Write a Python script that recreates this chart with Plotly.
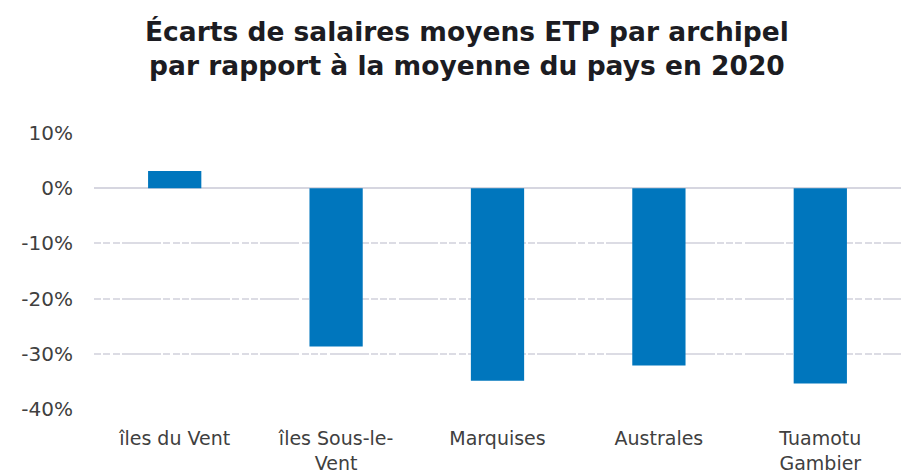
import plotly.graph_objects as go

# Écarts de salaires moyens ETP par archipel (2020)
archipels = ["îles du Vent", "îles Sous-le-<br>Vent", "Marquises", "Australes", "Tuamotu<br>Gambier"]
ecarts = [0.031, -0.287, -0.349, -0.321, -0.354]
y_ticks = [0.10, 0.0, -0.10, -0.20, -0.30, -0.40]
y_labels = ["10%", "0%", "-10%", "-20%", "-30%", "-40%"]

fig = go.Figure(go.Bar(
    x=archipels,
    y=ecarts,
    marker=dict(color="#0076BD", line=dict(width=0)),
    width=0.33,
))

fig.update_layout(
    width=901,
    height=474,
    margin=dict(l=94, r=0, t=133, b=65),
    plot_bgcolor="white",
    paper_bgcolor="white",
    showlegend=False,
    font=dict(family="DejaVu Sans", size=19, color="#404040"),
)

# title as an annotation so both lines are placed from the top
fig.add_annotation(
    text="Écarts de salaires moyens ETP par archipel<br>par rapport à la moyenne du pays en 2020",
    font=dict(family="DejaVu Sans", size=26.5, color="#1c1c22", weight="bold"),
    xref="paper", yref="paper",
    x=(467 - 94) / 807, y=1 + (133 - 14) / 276,
    xanchor="center", yanchor="top",
    showarrow=False,
)

fig.update_xaxes(
    showgrid=False,
    showline=False,
    automargin=False,
    ticks="outside", ticklen=12, tickcolor="rgba(0,0,0,0)",
    tickfont=dict(size=19, color="#404040"),
    range=[-0.5, 4.5],
)

fig.update_yaxes(
    range=[-0.40, 0.10],
    tickvals=y_ticks,
    ticktext=y_labels,
    automargin=False,
    showgrid=True,
    gridcolor="#DCDCE4",
    gridwidth=1.5,
    griddash="7px,2.3px,7px,2.3px,7px,2.3px,39px,2.3px",
    zeroline=True,
    zerolinecolor="#D6D6E0",
    zerolinewidth=1.5,
    ticks="outside", ticklen=16, tickcolor="rgba(0,0,0,0)",
    tickfont=dict(size=20, color="#404040"),
)

# drop the default body margin so the figure fills the window exactly
fig.write_html(
    "out.html",
    config={"displayModeBar": False},
    post_script="document.body.style.margin='0';document.body.style.overflow='hidden';",
)
